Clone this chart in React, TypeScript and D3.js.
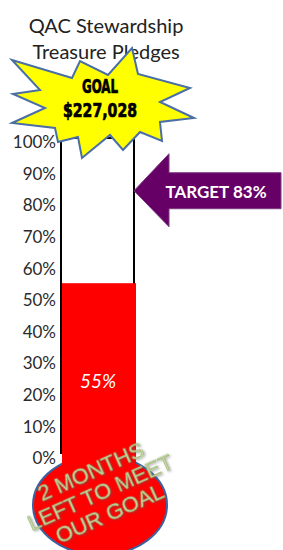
import React from "react";
import * as d3 from "d3";

const titleLines = ["QAC Stewardship", "Treasure Pledges"];
const tickValues = [0, 10, 20, 30, 40, 50, 60, 70, 80, 90, 100];
const pledgedPct = [55];
const targetPct = [83];
const goalAmount = [227028];
const bulbLines = ["2 MONTHS", "LEFT TO MEET", "OUR GOAL"];
// starburst outline (decorative shape)
const starPoints: [number, number][] = [
  [12, 60], [72, 78], [80, 61], [108, 75], [132, 48], [138, 74], [190, 88], [160, 102],
  [194, 118], [160, 122], [162, 141], [140, 132], [123, 150], [110, 135], [82, 158],
  [78, 137], [58, 142], [55, 128], [12, 123], [45, 108], [13, 94], [40, 90],
];

const W = 283;
const H = 550;

export default function App() {
  const y = d3.scaleLinear().domain([0, 100]).range([457, 141]);
  const barX0 = 61;
  const barX1 = 134;
  const barTop = y(100) - 3;
  const pledged = pledgedPct[0];
  const target = targetPct[0];
  const fillTop = y(pledged);

  const tipY = y(target) - 4;
  const tipX = barX1;
  const ap = d3.path();
  ap.moveTo(tipX, tipY);
  ap.lineTo(tipX + 35, tipY - 37);
  ap.lineTo(tipX + 35, tipY - 18);
  ap.lineTo(281, tipY - 18);
  ap.lineTo(281, tipY + 18);
  ap.lineTo(tipX + 35, tipY + 18);
  ap.lineTo(tipX + 35, tipY + 36);
  ap.closePath();

  const star = d3.line().curve(d3.curveLinearClosed)(starPoints) || "";
  const fmt = d3.format("$,");
  const font = "Lato, 'Open Sans', sans-serif";
  const goalFont = "'DejaVu Sans Condensed', 'DejaVu Sans', sans-serif";
  const bulbFont = "'Liberation Sans', Arial, sans-serif";

  return (
    <svg width={W} height={H} style={{ position: "absolute", left: 0, top: 0, background: "#fff" }}>
      <defs>
        <filter id="sh" x="-20%" y="-20%" width="140%" height="160%">
          <feDropShadow dx="1" dy="1.5" stdDeviation="0.8" floodColor="#555" floodOpacity="0.5" />
        </filter>
      </defs>
      {titleLines.map((t, i) => (
        <text key={t} x={106} y={33 + i * 26} textAnchor="middle" fontFamily={font} fontSize={20} fill="#222">
          {t}
        </text>
      ))}
      {/* tick labels */}
      {tickValues.map((v) => (
        <text key={v} x={56} y={y(v) + 1} dy="0.36em" textAnchor="end" fontFamily={font} fontSize={17} fill="#2a2a2a">
          {v}%
        </text>
      ))}
      {/* bulb */}
      <ellipse cx={100} cy={505} rx={67} ry={50} fill="#ff0000" stroke="#3a63a0" strokeWidth={2} />
      {/* tube */}
      <rect x={barX0} y={barTop} width={barX1 - barX0} height={y(0) - 4 - barTop} fill="#fff" stroke="#000" strokeWidth={2} />
      <rect x={barX0 + 1} y={fillTop} width={barX1 - barX0 + 1} height={y(0) + 12 - fillTop} fill="#ff0000" />
      <line x1={barX0} x2={barX0} y1={fillTop} y2={y(0) - 4} stroke="#000" strokeWidth={2} />
      <text x={98} y={(fillTop + y(0)) / 2 + 18} textAnchor="middle" fontFamily={font} fontStyle="italic" fontSize={19} fill="#fff">
        {pledged}%
      </text>
      {/* starburst */}
      <path d={star} fill="#ffff00" stroke="#4a6ea6" strokeWidth={2} strokeLinejoin="miter" />
      <text x={100} y={93} textAnchor="middle" fontFamily={goalFont} fontWeight={900} fontSize={19} textLength={36} lengthAdjust="spacingAndGlyphs" fill="#000" stroke="#000" strokeWidth={0.7}>
        GOAL
      </text>
      <text x={100} y={117} textAnchor="middle" fontFamily={goalFont} fontWeight={900} fontSize={20} textLength={74} lengthAdjust="spacingAndGlyphs" fill="#000" stroke="#000" strokeWidth={0.7}>
        {fmt(goalAmount[0])}
      </text>
      {/* target arrow */}
      <path d={ap.toString()} fill="#660066" stroke="#7a3a80" strokeWidth={1} />
      <text x={216} y={tipY + 7} textAnchor="middle" fontFamily={font} fontWeight={700} fontSize={17} fill="#fff">
        TARGET {target}%
      </text>
      {/* bulb text */}
      <g transform="translate(100,492) rotate(-24)">
        {bulbLines.map((t, i) => (
          <text
            key={t}
            x={0}
            y={(i - 1) * 23}
            dy="0.35em"
            textAnchor="middle"
            fontFamily={bulbFont}
            fontSize={22}
            fill="#c8dca2"
            stroke="#8fa86a"
            strokeWidth={0.5}
            filter="url(#sh)"
          >
            {t}
          </text>
        ))}
      </g>
    </svg>
  );
}
